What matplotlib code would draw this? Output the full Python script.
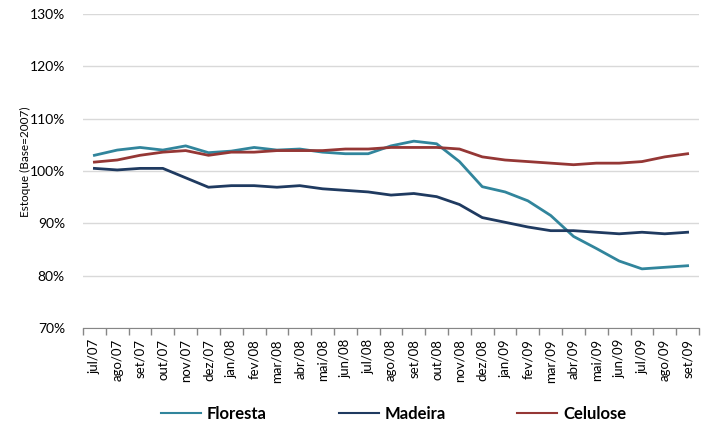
import matplotlib.pyplot as plt
import numpy as np

# Estoques mensais (Base=2007), em %
meses = ['jul/07', 'ago/07', 'set/07', 'out/07', 'nov/07', 'dez/07',
         'jan/08', 'fev/08', 'mar/08', 'abr/08', 'mai/08', 'jun/08',
         'jul/08', 'ago/08', 'set/08', 'out/08', 'nov/08', 'dez/08',
         'jan/09', 'fev/09', 'mar/09', 'abr/09', 'mai/09', 'jun/09',
         'jul/09', 'ago/09', 'set/09']

floresta = [103.0, 104.0, 104.5, 104.0, 104.8, 103.5, 103.8, 104.5, 104.0,
            104.2, 103.6, 103.3, 103.3, 104.8, 105.7, 105.2, 101.8, 97.0,
            96.0, 94.3, 91.5, 87.5, 85.2, 82.8, 81.3, 81.6, 81.9]
madeira = [100.5, 100.2, 100.5, 100.5, 98.7, 96.9, 97.2, 97.2, 96.9,
           97.2, 96.6, 96.3, 96.0, 95.4, 95.7, 95.1, 93.6, 91.1,
           90.2, 89.3, 88.6, 88.6, 88.3, 88.0, 88.3, 88.0, 88.3]
celulose = [101.7, 102.1, 103.0, 103.6, 103.9, 103.0, 103.6, 103.6, 103.9,
            103.9, 103.9, 104.2, 104.2, 104.5, 104.5, 104.5, 104.2, 102.7,
            102.1, 101.8, 101.5, 101.2, 101.5, 101.5, 101.8, 102.7, 103.3]

plt.rcParams['font.family'] = ['Lato', 'DejaVu Sans']

fig = plt.figure(figsize=(7.07, 4.24), dpi=100)
ax = fig.add_axes([0.1174, 0.2264, 0.8713, 0.7406])

x = np.arange(len(meses))
ax.plot(x, floresta, color='#31859C', linewidth=2, label='Floresta')
ax.plot(x, madeira, color='#1F3A60', linewidth=2, label='Madeira')
ax.plot(x, celulose, color='#953735', linewidth=2, label='Celulose')

ax.set_ylim(70, 130)
ax.set_yticks(np.arange(70, 131, 10))
ax.set_yticklabels(['%d%%' % v for v in range(70, 131, 10)], fontsize=10)
ax.yaxis.grid(True, color='#D9D9D9', linewidth=1)
ax.set_axisbelow(True)
ax.tick_params(axis='y', length=0, pad=13)

ax.set_xlim(-0.5, len(meses) - 0.5)
ax.set_xticks(x)
ax.set_xticklabels(meses, rotation=90, fontsize=9.5)
ax.tick_params(axis='x', length=0, pad=8)
ax.set_xticks(np.arange(-0.5, len(meses)), minor=True)
ax.tick_params(axis='x', which='minor', length=5, color='#868686', width=1)

for lado in ['top', 'right', 'left']:
    ax.spines[lado].set_visible(False)
ax.spines['bottom'].set_color('#868686')

ax.set_ylabel('Estoque (Base=2007)', fontsize=8.5)
ax.yaxis.set_label_coords(-0.085, 0.53)

leg = fig.legend(loc='lower center', bbox_to_anchor=(0.557, -0.03), ncol=3,
                 frameon=False, handlelength=2.4, handletextpad=0.35,
                 columnspacing=4.3, prop={'weight': 'bold', 'size': 12})
for linha in leg.get_lines():
    linha.set_linewidth(1.5)

fig.savefig('out.png', dpi=100)
